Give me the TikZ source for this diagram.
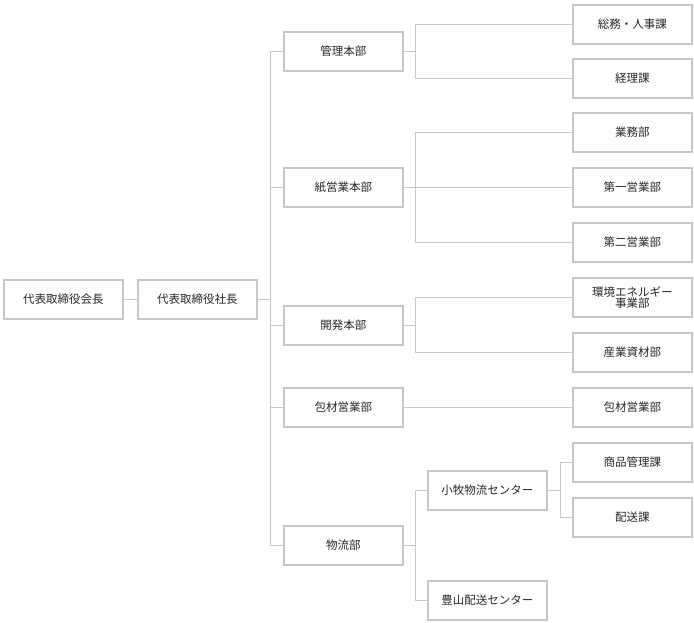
\documentclass[tikz,border=0pt]{standalone}
\usepackage{fontspec}
\setmainfont{Noto Sans CJK JP}
\begin{document}
\begin{tikzpicture}[x=1pt,y=-1pt,
  box/.style={draw=black!22,line width=1.6pt,minimum width=119pt,minimum height=39pt,inner sep=0pt,font=\fontsize{11.5}{13}\selectfont,text=black!85,align=center,anchor=north west},
  con/.style={draw=black!22,line width=1pt}]
\useasboundingbox (0,0) rectangle (694,622);
\node[box] (kaicho) at (3,279) {代表取締役会長};
\node[box] (shacho) at (137,279) {代表取締役社長};
\node[box] (kanri) at (283,31) {管理本部};
\node[box] (kami) at (283,167) {紙営業本部};
\node[box] (kaihatsu) at (283,305) {開発本部};
\node[box] (hozai) at (283,387) {包材営業部};
\node[box] (butsuryu) at (283,525) {物流部};
\node[box] (soumu) at (572,4) {総務・人事課};
\node[box] (keiri) at (572,58) {経理課};
\node[box] (gyomu) at (572,112) {業務部};
\node[box] (dai1) at (572,167) {第一営業部};
\node[box] (dai2) at (572,222) {第二営業部};
\node[box] (kankyo) at (572,277) {環境エネルギー\\[-2pt]事業部};
\node[box] (sangyo) at (572,332) {産業資材部};
\node[box] (hozai2) at (572,387) {包材営業部};
\node[box] (shohin) at (572,442) {商品管理課};
\node[box] (haiso) at (572,497) {配送課};
\node[box] (komaki) at (427,470) {小牧物流センター};
\node[box] (toyoyama) at (427,580) {豊山配送センター};
\coordinate (t1) at (270,0);
\coordinate (t2) at (415,0);
\coordinate (t3) at (560,0);
\draw[con] (kaicho.east) -- (shacho.west);
\draw[con] (shacho.east) -- (t1 |- shacho.east);
\foreach \n in {kanri,kami,kaihatsu,hozai,butsuryu}
  \draw[con] (t1 |- \n.west) -- (\n.west);
\draw[con] (t1 |- kanri.west) -- (t1 |- butsuryu.west);
\foreach \a/\b in {kanri/soumu,kanri/keiri,kami/gyomu,kami/dai1,kami/dai2,kaihatsu/kankyo,kaihatsu/sangyo,butsuryu/komaki,butsuryu/toyoyama}{
  \draw[con] (\a.east) -- (t2 |- \a.east);
  \draw[con] (t2 |- \a.east) |- (\b.west);}
\draw[con] (hozai.east) -- (hozai2.west);
\draw[con] (komaki.east) -- (t3 |- komaki.east);
\draw[con] (t3 |- komaki.east) |- (shohin.west);
\draw[con] (t3 |- komaki.east) |- (haiso.west);
\end{tikzpicture}
\end{document}
